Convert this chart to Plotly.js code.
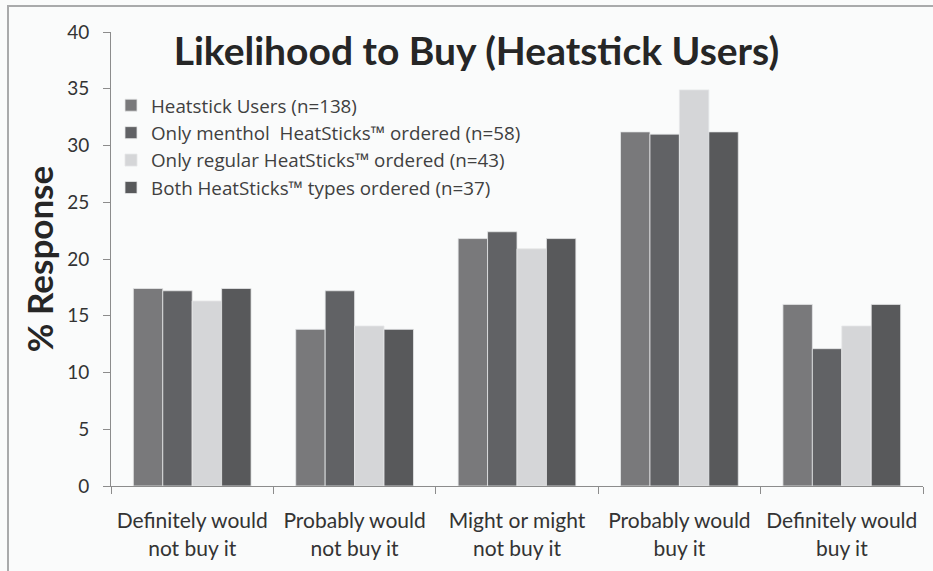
<!DOCTYPE html>
<html>
<head>
<meta charset="utf-8">
<script src="https://cdn.plot.ly/plotly-3.0.1.min.js"></script>
<style>
  html, body { margin: 0; padding: 0; background: #fafbfb; }
  #frame { position: absolute; left: 7px; top: 5px; width: 940px; height: 580px;
           border-top: 2px solid #a9aaab; border-left: 2px solid #a9aaab; pointer-events: none; z-index: 5; }
  #chart { position: absolute; left: 0; top: 0; width: 933px; height: 571px; }
</style>
</head>
<body>
<div id="chart"></div>
<div id="frame"></div>
<script>
const categories = [
  "Definitely would<br>not buy it",
  "Probably would<br>not buy it",
  "Might or might<br>not buy it",
  "Probably would<br>buy it",
  "Definitely would<br>buy it"
];
const seriesNames = [
  "Heatstick Users (n=138)",
  "Only menthol  HeatSticks™ ordered (n=58)",
  "Only regular HeatSticks™ ordered (n=43)",
  "Both HeatSticks™ types ordered (n=37)"
];
const heatstickUsers = [17.4, 13.8, 21.8, 31.2, 16.0];
const mentholOnly    = [17.2, 17.2, 22.4, 31.0, 12.1];
const regularOnly    = [16.3, 14.1, 20.9, 34.9, 14.1];
const bothTypes      = [17.4, 13.8, 21.8, 31.2, 16.0];
const colors = ["#79797b", "#616265", "#d5d6d8", "#58595b"];

const allSeries = [heatstickUsers, mentholOnly, regularOnly, bothTypes];
const traces = allSeries.map((vals, i) => ({
  type: "bar",
  x: categories,
  y: vals,
  name: seriesNames[i],
  marker: { color: colors[i], line: { color: "#e6e7e8", width: 0.8 } },
  hoverinfo: "y"
}));

const fontFam = "Lato, 'Open Sans', sans-serif";
const layout = {
  width: 933, height: 571,
  paper_bgcolor: "#fafbfb",
  plot_bgcolor: "#fafbfb",
  margin: { l: 111, r: 10, t: 32, b: 85 },
  barmode: "group",
  bargap: 0.275,
  bargroupgap: 0,
  title: {
    text: "<b>Likelihood to Buy (Heatstick Users)</b>",
    font: { family: fontFam, size: 39, color: "#262626" },
    x: 0.45, xanchor: "center", xref: "paper",
    y: 0.91, yanchor: "middle", yref: "container"
  },
  showlegend: true,
  legend: {
    x: 0.0, y: 0.88, xanchor: "left", yanchor: "top",
    bgcolor: "rgba(0,0,0,0)",
    font: { family: "'Open Sans', Lato, sans-serif", size: 18.8, color: "#404040" },
    itemwidth: 30,
    traceorder: "normal"
  },
  xaxis: {
    type: "category",
    showline: true, linecolor: "#8c8c8c", linewidth: 1,
    ticks: "outside", ticklen: 7, tickcolor: "#8c8c8c",
    tickson: "boundaries",
    ticklabelstandoff: 16,
    tickfont: { family: fontFam, size: 21, color: "#333333" },
    showgrid: false, zeroline: false
  },
  yaxis: {
    range: [0, 40],
    dtick: 5,
    showline: true, linecolor: "#8c8c8c", linewidth: 1,
    ticks: "outside", ticklen: 7, tickcolor: "#8c8c8c",
    ticklabelstandoff: 10,
    tickfont: { family: fontFam, size: 19, color: "#333333" },
    showgrid: false, zeroline: false,
    title: { text: "<b>% Response</b>", font: { family: fontFam, size: 35, color: "#262626" }, standoff: 2 }
  }
};

Plotly.newPlot("chart", traces, layout, { displayModeBar: false, staticPlot: true });
</script>
</body>
</html>
